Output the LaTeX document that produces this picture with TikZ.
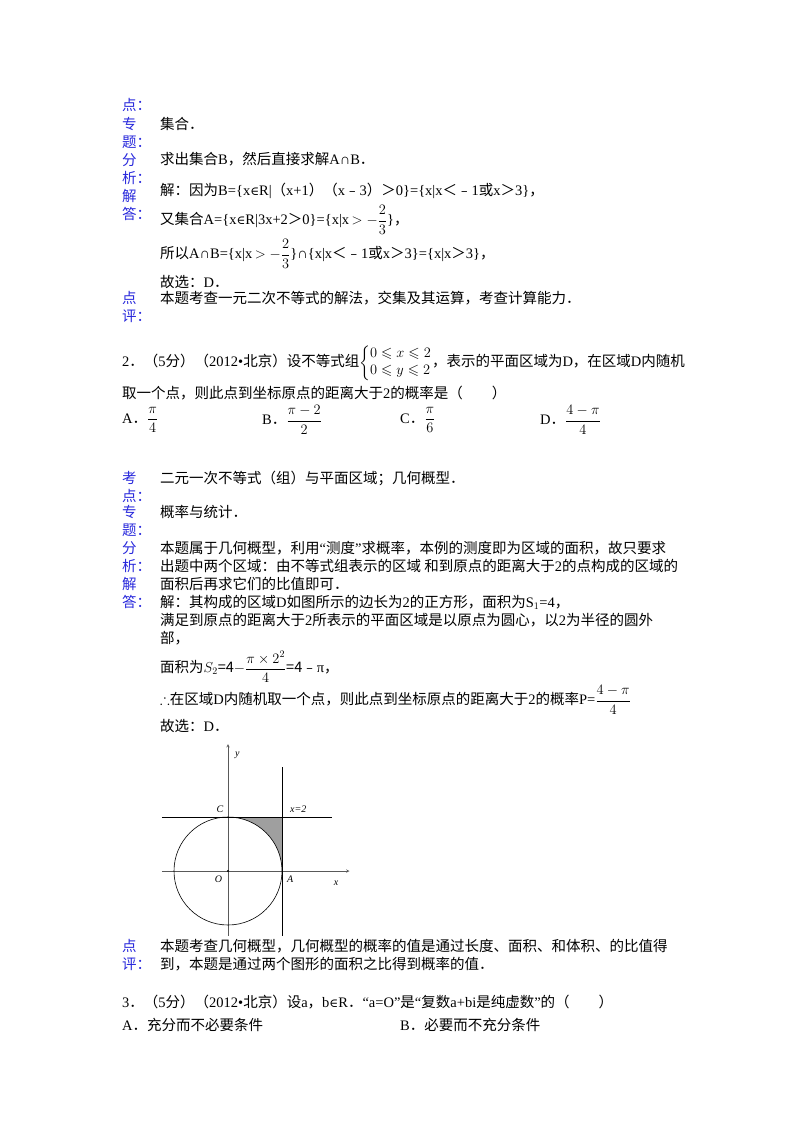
\documentclass[tikz,border=0pt]{standalone}
\usepackage{amsmath,amssymb}
\usepackage{fontspec}
\setmainfont{Liberation Serif}
\newfontfamily\cjk{Noto Sans CJK SC}
\newfontfamily\djvfont{DejaVu Serif}
\newcommand\inn{{\djvfont\fontsize{12}{14}\selectfont ∈}}
\XeTeXinterchartokenstate=1
\newXeTeXintercharclass\CJKc
\count255="3000
\loop \XeTeXcharclass\count255=\CJKc \ifnum\count255<"9FFF \advance\count255 1 \repeat
\count255="FE30
\loop \XeTeXcharclass\count255=\CJKc \ifnum\count255<"FFEF \advance\count255 1 \repeat
\XeTeXinterchartoks 0 \CJKc = {\cjk}
\XeTeXinterchartoks 4095 \CJKc = {\cjk}
\XeTeXinterchartoks \CJKc 0 = {\rmfamily}
\definecolor{lab}{RGB}{40,40,220}
\tikzset{t/.style={anchor=west,inner sep=0pt,font=\fontsize{14.5}{17}\selectfont},
 l/.style={t,text=lab},
 ax/.style={line width=0.5pt,gray!70!black}}
\begin{document}
\begin{tikzpicture}[x=1pt,y=-1pt]
\useasboundingbox[fill=white] (0,0) rectangle (800,1132);
\foreach \n/\c/\y in {a/点：/105,b/专/124,c/题：/142,d/分/160,e/析：/178,f/解/196,g/答：/214,h/点/298,i/评：/316}
  \node[l] (L\n) at (122,\y) {\c};
\node[t] (t1) at (160,124) {集合．};
\node[t] (t2) at (160,159) {求出集合B，然后直接求解A∩B．};
\node[t] (t3) at (160,191) {解：因为B=\{x\inn R|（x+1）（x﹣3）＞0\}=\{x|x＜﹣1或x＞3\}，};
\node[t] (t4) at (160,220) {又集合A=\{x\inn R|3x+2＞0\}=\{x|x$\,>-\dfrac{2}{3}$\}，};
\node[t] (t5) at (160,254) {所以A∩B=\{x|x$\,>-\dfrac{2}{3}$\}∩\{x|x＜﹣1或x＞3\}=\{x|x＞3\}，};
\node[t] (t6) at (160,282) {故选：D．};
\node[t] (t7) at (160,298) {本题考查一元二次不等式的解法，交集及其运算，考查计算能力．};
\node[t] (q1) at (122,363) {2．（5分）（2012•北京）设不等式组$\left\{\begin{array}{@{}l@{}}0\leqslant x\leqslant 2\\ 0\leqslant y\leqslant 2\end{array}\right.$，表示的平面区域为D，在区域D内随机};
\node[t] (q2) at (122,393) {取一个点，则此点到坐标原点的距离大于2的概率是（　　）};
\node[t] (oA) at (122,420) {A．$\dfrac{\pi}{4}$};
\node[t] (oB) at (262,420) {B．$\dfrac{\pi-2}{2}$};
\node[t] (oC) at (400,420) {C．$\dfrac{\pi}{6}$};
\node[t] (oD) at (540,420) {D．$\dfrac{4-\pi}{4}$};
\foreach \n/\c/\y in {a/考/478,b/点：/496,c/专/512,d/题：/530,e/分/548,f/析：/566,g/解/584,h/答：/602}
  \node[l] (M\n) at (122,\y) {\c};
\node[t] (s1) at (160,478) {二元一次不等式（组）与平面区域；几何概型．};
\node[t] (s2) at (160,512) {概率与统计．};
\node[t] (s3) at (160,548) {本题属于几何概型，利用“测度”求概率，本例的测度即为区域的面积，故只要求};
\node[t] (s4) at (160,566) {出题中两个区域：由不等式组表示的区域 和到原点的距离大于2的点构成的区域的};
\node[t] (s5) at (160,584) {面积后再求它们的比值即可．};
\node[t] (s6) at (160,602) {解：其构成的区域D如图所示的边长为2的正方形，面积为S$_1$=4，};
\node[t] (s7) at (160,620) {满足到原点的距离大于2所表示的平面区域是以原点为圆心，以2为半径的圆外};
\node[t] (s8) at (160,638) {部，};
\node[t] (s9) at (160,667) {面积为$S_2$=4$-\dfrac{\pi\times 2^2}{4}$=4﹣π，};
\node[t] (s10) at (160,700) {$\therefore$在区域D内随机取一个点，则此点到坐标原点的距离大于2的概率P=$\dfrac{4-\pi}{4}$};
\node[t] (s11) at (160,726) {故选：D．};
\begin{scope}[shift={(228,871)},x=27pt,y=27pt]
\fill[gray!75] (0,2) -- (2,2) -- (2,0) arc (0:90:2) -- cycle;
\draw[ax,-stealth] (-2.45,0) -- (4.5,0);
\draw[ax,-stealth] (0,-2.4) -- (0,4.7);
\draw[line width=0.6pt] (0,0) circle (2);
\draw[line width=0.9pt] (-2.45,2) -- (3.85,2);
\draw[line width=0.9pt] (2,-2.4) -- (2,3.85);
\fill (0,0) circle (0.04);
\node[font=\itshape] (ly) at (0.35,4.3) {y};
\node[font=\itshape] (lx) at (4.0,-0.45) {x};
\node[font=\itshape] (lO) at (-0.35,-0.32) {O};
\node[font=\itshape] (lA) at (2.3,-0.32) {A};
\node[font=\itshape] (lC) at (-0.3,2.3) {C};
\node[font=\itshape] (l2) at (2.6,2.3) {x=2};
\end{scope}
\node[l] (Na) at (122,946) {点};
\node[l] (Nb) at (122,964) {评：};
\node[t] (p1) at (160,946) {本题考查几何概型，几何概型的概率的值是通过长度、面积、和体积、的比值得};
\node[t] (p2) at (160,964) {到，本题是通过两个图形的面积之比得到概率的值．};
\node[t] (r1) at (122,1002) {3．（5分）（2012•北京）设a，b\inn R．“a=O”是“复数a+bi是纯虚数”的（　　）};
\node[t] (r2) at (122,1025) {A．充分而不必要条件};
\node[t] (r3) at (400,1025) {B．必要而不充分条件};
\end{tikzpicture}
\end{document}
